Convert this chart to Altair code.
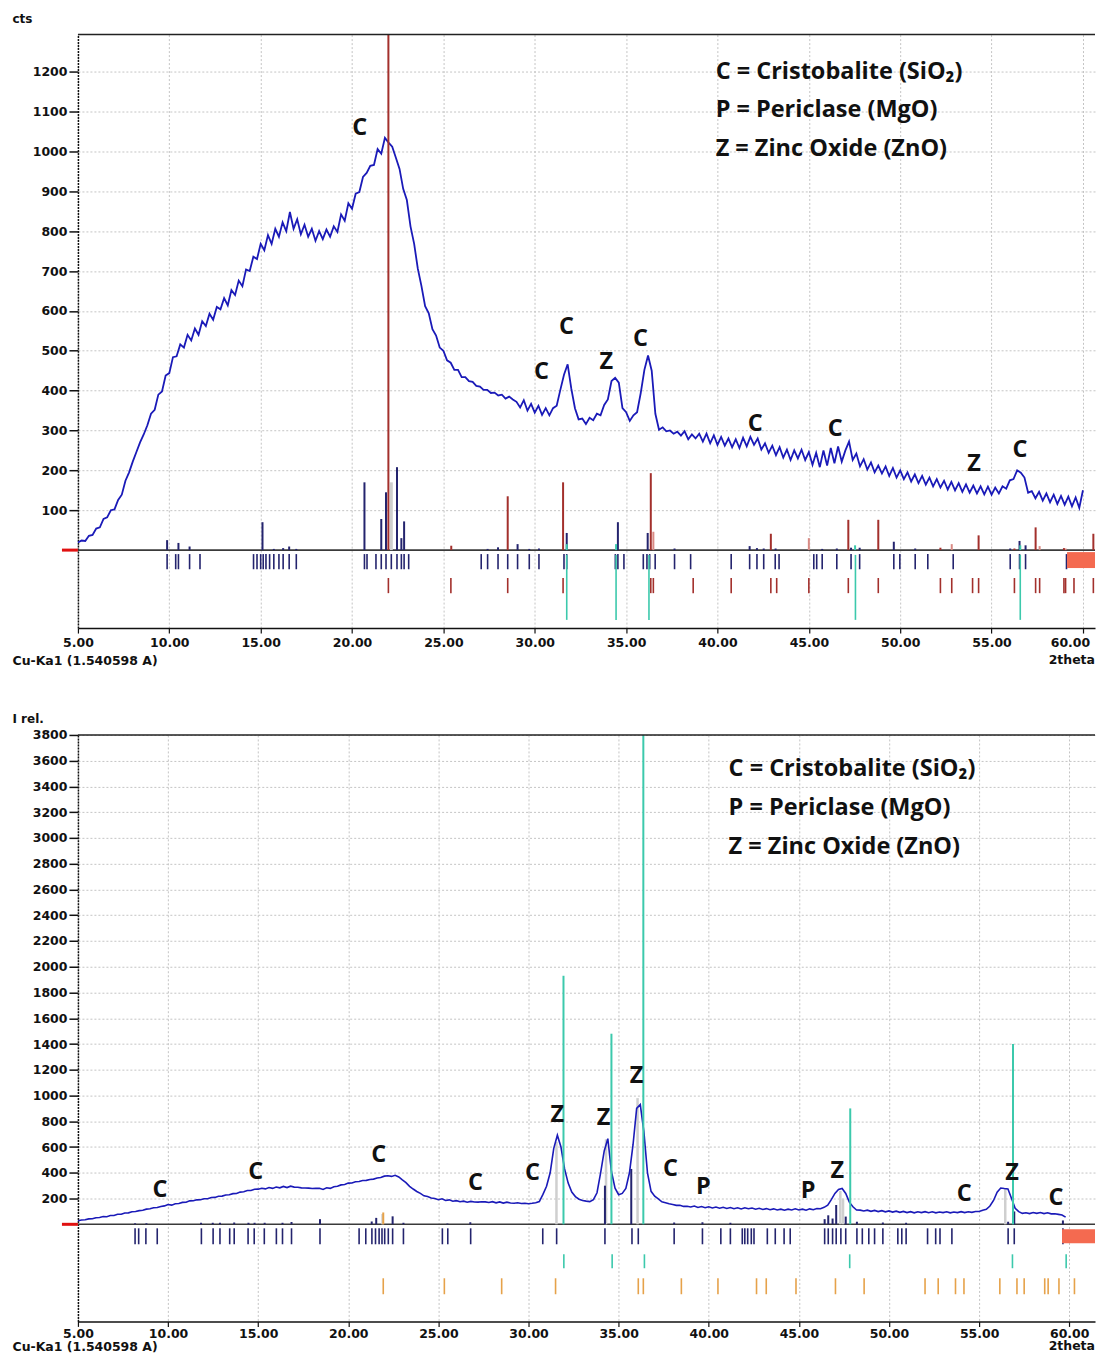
import altair as alt
import pandas as pd

# ---------------- data ----------------
STEP = 0.2

# Upper pattern (cts), 2theta = 5.0, 5.2, ... 60.0
P1_INTENSITY = [
    19, 24, 23, 36, 38, 54, 57, 78, 82, 100,
    102, 126, 139, 174, 195, 222, 246, 270, 290, 313,
    342, 352, 390, 398, 438, 444, 484, 486, 516, 508,
    540, 526, 556, 540, 574, 562, 593, 578, 610, 604,
    632, 614, 652, 640, 676, 662, 704, 700, 736, 730,
    768, 752, 790, 768, 806, 786, 822, 800, 848, 806,
    830, 792, 816, 786, 806, 776, 800, 780, 804, 786,
    812, 798, 842, 826, 870, 856, 894, 898, 936, 946,
    964, 966, 1006, 994, 1034, 1022, 1012, 984, 956, 906,
    878, 812, 768, 706, 662, 612, 594, 554, 538, 508,
    500, 476, 470, 452, 452, 434, 434, 424, 422, 412,
    410, 402, 402, 394, 395, 388, 390, 380, 385, 378,
    372, 358, 376, 350, 367, 345, 362, 339, 356, 338,
    356, 362, 402, 440, 466, 405, 356, 328, 330, 316,
    332, 326, 342, 338, 364, 378, 424, 432, 420, 356,
    346, 324, 338, 346, 394, 452, 488, 450, 342, 302,
    308, 298, 300, 292, 297, 287, 298, 278, 290, 280,
    292, 272, 292, 268, 288, 264, 284, 262, 280, 258,
    278, 256, 282, 260, 284, 264, 280, 252, 268, 244,
    262, 238, 258, 232, 252, 226, 250, 230, 252, 226,
    246, 214, 244, 208, 250, 212, 256, 218, 260, 222,
    250, 272, 226, 242, 210, 228, 202, 220, 195, 212,
    192, 210, 186, 206, 182, 200, 178, 195, 172, 190,
    168, 186, 164, 182, 160, 178, 157, 174, 152, 171,
    150, 168, 146, 165, 144, 162, 142, 160, 140, 159,
    139, 157, 142, 160, 154, 175, 178, 200, 194, 182,
    144, 148, 130, 146, 124, 142, 120, 139, 116, 136,
    114, 134, 110, 132, 106, 150,
]

# Lower pattern (I rel.), 2theta = 5.0, 5.2, ... 59.8
P2_INTENSITY = [
    28, 33, 35, 42, 43, 51, 53, 60, 59, 68,
    69, 78, 78, 88, 89, 97, 99, 106, 109, 118,
    121, 128, 131, 138, 143, 154, 149, 160, 161, 170,
    171, 182, 183, 190, 191, 198, 199, 208, 209, 218,
    219, 228, 229, 238, 239, 250, 253, 262, 263, 272,
    273, 280, 275, 286, 279, 290, 283, 294, 285, 296,
    289, 288, 283, 282, 281, 278, 279, 280, 271, 284,
    279, 292, 295, 306, 309, 320, 321, 330, 333, 340,
    341, 348, 351, 360, 363, 374, 377, 372, 381, 368,
    345, 324, 295, 274, 255, 240, 221, 216, 205, 200,
    191, 198, 185, 190, 179, 184, 175, 180, 171, 178,
    173, 172, 175, 174, 169, 176, 167, 174, 165, 172,
    165, 164, 167, 162, 163, 160, 163, 168, 177, 232,
    295, 400, 590, 692, 600, 430, 320, 250, 215, 195,
    185, 180, 176, 192, 245, 400, 570, 665, 410, 280,
    230, 240, 278, 400, 620, 900, 930, 720, 400, 256,
    219, 198, 175, 168, 159, 154, 147, 148, 139, 140,
    135, 142, 131, 138, 129, 136, 127, 134, 125, 132,
    123, 130, 121, 128, 119, 128, 121, 126, 117, 124,
    115, 122, 113, 120, 111, 118, 109, 118, 111, 120,
    111, 118, 109, 120, 113, 122, 121, 132, 149, 192,
    240, 270, 278, 240, 172, 136, 111, 110, 103, 110,
    101, 108, 99, 106, 97, 104, 95, 102, 93, 100,
    91, 98, 89, 97, 91, 98, 90, 97, 89, 96,
    91, 97, 89, 96, 91, 98, 91, 97, 93, 100,
    99, 110, 117, 142, 185, 250, 282, 278, 275, 200,
    125, 98, 85, 90, 83, 92, 85, 91, 83, 90,
    81, 82, 77, 72, 56,
]

P1_TWO_THETA = [round(5.0 + STEP * i, 1) for i in range(len(P1_INTENSITY))]
P2_TWO_THETA = [round(5.0 + STEP * i, 1) for i in range(len(P2_INTENSITY))]

# reference sticks, upper panel
P1_NAVY_X = [9.88, 10.5, 11.11, 15.1, 15.72, 16.23, 16.56, 16.95, 20.68, 21.6, 21.86, 22.46, 22.7, 22.85,
             27.42, 27.99, 29.06, 29.7, 30.23, 31.75, 34.55, 36.18, 37.65, 41.76, 42.16, 42.53, 43.18,
             45.73, 46.53, 47.31, 47.78, 49.65, 50.82, 56.02, 56.53, 56.86]
P1_NAVY_Y = [25, 18, 9, 70, 3, 5, 9, 3, 170, 78, 145, 208, 30, 72,
             3, 7, 15, 3, 4, 43, 70, 43, 4, 10, 5, 4, 4,
             3, 4, 6, 6, 21, 4, 4, 23, 12]
P1_RED_X = [21.99, 25.43, 28.52, 31.55, 36.35, 42.92, 47.16, 48.8, 52.2, 54.29, 56.25, 57.41, 58.96, 60.57]
P1_RED_Y = [1293, 11, 135, 170, 193, 41, 76, 76, 6, 37, 4, 57, 5, 41]
P1_PINK_X = [36.49, 45.0, 52.82, 57.63, 59.05]
P1_PINK_Y = [46, 30, 15, 10, 4]
P1_CYAN_X = [31.75, 34.45, 47.53, 56.57]
P1_CYAN_Y = [15, 15, 12, 12]
P1_GRAY_X = [22.15]
P1_GRAY_Y = [170]

# phase marker rows, upper panel
P1_ROW_NAVY = [9.88, 10.35, 10.5, 11.11, 11.68, 14.61, 14.8, 15.0, 15.14, 15.29, 15.49, 15.72, 16.0, 16.23,
               16.56, 16.95, 20.68, 20.82, 21.31, 21.6, 21.86, 22.15, 22.46, 22.7, 22.85, 23.1, 27.07, 27.42,
               27.99, 28.52, 29.06, 29.7, 30.23, 31.6, 31.75, 34.41, 34.55, 34.88, 35.94, 36.14, 36.29, 36.59,
               37.65, 38.53, 40.75, 41.76, 42.16, 42.53, 43.16, 43.37, 45.27, 45.43, 45.73, 46.53, 47.31,
               47.78, 49.65, 49.98, 50.82, 51.51, 52.9, 56.02, 56.53, 56.86, 59.1]
P1_ROW_RED = [21.99, 25.41, 28.52, 31.55, 36.35, 36.49, 38.67, 40.75, 42.92, 43.24, 45.0, 47.16, 48.8, 52.2,
              52.82, 53.96, 54.29, 56.25, 57.41, 57.63, 58.96, 59.05, 59.51, 60.57]
P1_ROW_CYAN = [31.75, 34.45, 36.25, 47.55, 56.57]

# reference sticks, lower panel
P2_CYAN_X = [31.94, 34.6, 36.37, 47.85, 56.88]
P2_CYAN_Y = [1930, 1480, 3800, 900, 1400]
P2_NAVY_X = [8.17, 8.8, 11.83, 12.48, 12.88, 13.67, 14.46, 14.8, 15.36, 16.35, 16.85, 18.43, 21.3, 21.55,
             22.46, 23.06, 25.5, 26.77, 34.24, 35.7, 38.08, 39.65, 41.2, 46.43, 46.63, 46.87, 47.07, 47.6,
             48.22, 49.66, 50.95, 56.61, 56.95, 59.65]
P2_NAVY_Y = [8, 8, 12, 12, 12, 14, 12, 12, 12, 12, 18, 40, 22, 50,
             62, 12, 6, 16, 300, 430, 14, 16, 12, 40, 70, 45, 150, 60,
             20, 14, 12, 20, 100, 30]
P2_GRAY_X = [21.9, 31.55, 34.3, 36.05, 47.3, 47.45, 56.45]
P2_GRAY_Y = [80, 640, 660, 980, 260, 200, 280]
P2_ORANGE_X = [21.94]
P2_ORANGE_Y = [92]

# phase marker rows, lower panel
P2_ROW_NAVY = [8.17, 8.37, 8.77, 9.4, 11.85, 12.5, 12.88, 13.42, 13.67, 14.44, 14.78, 15.34, 16.01, 16.35,
               16.85, 18.43, 20.6, 20.97, 21.31, 21.51, 21.71, 21.87, 22.02, 22.22, 22.46, 23.06, 25.22,
               25.52, 26.79, 30.79, 31.56, 34.24, 35.74, 36.09, 38.08, 39.65, 40.67, 41.2, 41.86, 42.0,
               42.16, 42.36, 42.51, 43.25, 43.69, 44.18, 44.52, 46.43, 46.63, 46.87, 47.07, 47.33, 47.6,
               48.22, 48.52, 48.88, 49.2, 49.66, 50.49, 50.71, 50.95, 52.14, 52.59, 52.83, 53.49, 56.61,
               56.95, 59.65]
P2_ROW_CYAN = [31.96, 34.64, 36.43, 47.82, 56.85, 59.83]
P2_ROW_ORANGE = [21.94, 25.33, 28.51, 31.5, 36.09, 36.37, 38.48, 40.51, 42.65, 43.19, 44.84, 47.03, 48.62,
                 52.0, 52.73, 53.69, 54.16, 56.15, 57.1, 57.5, 58.64, 58.83, 59.43, 60.29]

# peak letters
P1_LABEL_T = ["C", "C", "C", "Z", "C", "C", "C", "Z", "C"]
P1_LABEL_X = [20.42, 30.37, 31.74, 33.92, 35.78, 42.07, 46.44, 54.04, 56.56]
P1_LABEL_Y = [1058, 446, 559, 471, 529, 316, 303, 216, 251]

P2_LABEL_T = ["C", "C", "C", "C", "C", "Z", "Z", "Z", "C", "P", "P", "Z", "C", "Z", "C"]
P2_LABEL_X = [9.55, 14.87, 21.69, 27.06, 30.22, 31.6, 34.16, 35.99, 37.87, 39.7, 45.52, 47.13, 54.17, 56.83, 59.27]
P2_LABEL_Y = [264, 403, 535, 318, 396, 846, 822, 1148, 427, 287, 256, 411, 233, 396, 202]

LEGEND_LINES = ["C = Cristobalite (SiO\u2082)", "P = Periclase (MgO)", "Z = Zinc Oxide (ZnO)"]
P1_LEGEND_X = 39.9
P1_LEGEND_Y = [1200, 1103, 1005]
P2_LEGEND_X = 41.1
P2_LEGEND_Y = [3538, 3235, 2933]

X_TICKS = [5, 10, 15, 20, 25, 30, 35, 40, 45, 50, 55, 60]
P1_Y_TICKS = list(range(100, 1300, 100))
P2_Y_TICKS = list(range(200, 4000, 200))

# ---------------- styling ----------------
AX_FONT = "DejaVu Sans"
LBL_FONT = "Open Sans"
W = 1018
H1 = 594
H2 = 587
NAVY = "#24246e"
RED = "#a3302c"
PINK = "#d98a84"
CYAN = "#3cc9ac"
ORANGE = "#e6a24a"
GRAY = "#cfcfcf"
CURVE = "#1a1ab8"
SCROLL = "#f46a50"


def panel(W, H, xdom, ydom, yticks, ytitle, cx, cy, before, after, rows, rect, lab, leg,
          xtitle_y, label_pad, curve_w, last_shift):
    xs = alt.Scale(domain=xdom, nice=False, zero=False)
    ys = alt.Scale(domain=ydom, nice=False, zero=False)
    xax = alt.Axis(values=X_TICKS, format=".2f", title="Cu-Ka1 (1.540598 A)", titleX=-66, titleY=xtitle_y,
                   titleAlign="left", titleBaseline="middle", titleFont=AX_FONT, titleFontSize=12.5,
                   titleFontWeight="bold", titleColor="#111", labelFont=AX_FONT, labelFontSize=12.5,
                   labelFontWeight="bold", labelColor="#111", labelFlush=False, labelPadding=label_pad,
                   labelOffset={"condition": {"test": "datum.value == 60", "value": last_shift}, "value": 0},
                   grid=True, gridDash=[2, 2], gridColor="#c4c4c4", domainColor="#111", domainWidth=1.5,
                   tickColor="#111", tickSize=5, tickWidth=1.2)
    yax = alt.Axis(values=yticks, format="d", title=ytitle, titleAngle=0, titleX=-66, titleY=-16,
                   titleAlign="left", titleBaseline="middle", titleFont=AX_FONT, titleFontSize=12,
                   titleFontWeight="bold", titleColor="#111", labelFont=AX_FONT, labelFontSize=12.5,
                   labelFontWeight="bold", labelColor="#111", labelPadding=2, grid=True, gridDash=[2, 2],
                   gridColor="#c4c4c4", domainColor="#111", domainDash=[2, 1], domainWidth=1.5,
                   tickColor="#111", tickSize=9, tickWidth=1.5)

    def X(f="x"):
        return alt.X(f + ":Q", scale=xs, axis=xax)

    def Y(f="y"):
        return alt.Y(f + ":Q", scale=ys, axis=yax)

    def sticks(xv, yv, color, width):
        df = pd.DataFrame({"x": xv, "y": [0] * len(xv), "y1": yv})
        return alt.Chart(df).mark_rule(color=color, strokeWidth=width).encode(x=X(), y=Y(), y2="y1:Q")

    def row(xv, y0, y1, color, width):
        df = pd.DataFrame({"x": xv, "y": [y0] * len(xv), "y1": [y1] * len(xv)})
        return alt.Chart(df).mark_rule(color=color, strokeWidth=width).encode(x=X(), y=Y(), y2="y1:Q")

    layers = []
    layers.append(alt.Chart().mark_rule(color="#3a3a3a", strokeWidth=1.6).encode(
        x=alt.value(0), x2=alt.value(W), y=alt.datum(0, scale=ys, axis=yax)))
    for s in before:
        layers.append(sticks(*s))
    cdf = pd.DataFrame({"x": cx, "y": cy})
    layers.append(alt.Chart(cdf).mark_line(color=CURVE, strokeWidth=curve_w).encode(x=X(), y=Y()))
    for s in after:
        layers.append(sticks(*s))
    for r in rows:
        layers.append(row(*r))
    rdf = pd.DataFrame({"x": [rect[0]], "x2": [xdom[1]], "y": [rect[1]], "y1": [rect[2]]})
    layers.append(alt.Chart(rdf).mark_rect(color=SCROLL).encode(x=X(), x2="x2:Q", y=Y(), y2="y1:Q"))
    layers.append(alt.Chart().mark_rule(color="#e01010", strokeWidth=3).encode(
        x=alt.value(-16), x2=alt.value(0), y=alt.datum(0, scale=ys, axis=yax)))
    layers.append(alt.Chart().mark_rule(color="#222", strokeWidth=1.5).encode(
        x=alt.value(0), x2=alt.value(W), y=alt.value(0)))
    ldf = pd.DataFrame({"x": lab[0], "y": lab[1], "t": lab[2]})
    layers.append(alt.Chart(ldf).mark_text(font=LBL_FONT, fontWeight="bold", fontSize=23.5, color="#111",
                                           align="center", baseline="middle").encode(x=X(), y=Y(), text="t:N"))
    gdf = pd.DataFrame({"x": [leg[0]] * 3, "y": leg[1], "t": LEGEND_LINES})
    layers.append(alt.Chart(gdf).mark_text(font=LBL_FONT, fontWeight="bold", fontSize=23.5, color="#111",
                                           align="left", baseline="middle").encode(x=X(), y=Y(), text="t:N"))
    tdf = pd.DataFrame({"t": ["2theta"]})
    layers.append(alt.Chart(tdf).mark_text(font=AX_FONT, fontWeight="bold", fontSize=12.5, color="#111",
                                           align="right", baseline="middle").encode(
        text="t:N", x=alt.value(W), y=alt.value(H + xtitle_y)))
    return alt.layer(*layers).properties(width=W, height=H)


p1 = panel(
    W, H1, [5, 60.66], [-195.5, 1293], P1_Y_TICKS, "cts", P1_TWO_THETA, P1_INTENSITY,
    before=[(P1_GRAY_X, P1_GRAY_Y, GRAY, 3)],
    after=[(P1_NAVY_X, P1_NAVY_Y, NAVY, 2), (P1_PINK_X, P1_PINK_Y, PINK, 2),
           (P1_RED_X, P1_RED_Y, RED, 2), (P1_CYAN_X, P1_CYAN_Y, CYAN, 2)],
    rows=[(P1_ROW_NAVY, -10, -48, NAVY, 1.6), (P1_ROW_RED, -70, -108, RED, 1.6),
          (P1_ROW_CYAN, -12, -175, CYAN, 1.6)],
    rect=(59.13, -5, -45),
    lab=(P1_LABEL_X, P1_LABEL_Y, P1_LABEL_T),
    leg=(P1_LEGEND_X, P1_LEGEND_Y),
    xtitle_y=32, label_pad=3, curve_w=1.8, last_shift=-13,
)

p2 = panel(
    W, H2, [5, 61.43], [-754, 3800], P2_Y_TICKS, "I rel.", P2_TWO_THETA, P2_INTENSITY,
    before=[(P2_GRAY_X, P2_GRAY_Y, GRAY, 2.5), (P2_NAVY_X, P2_NAVY_Y, NAVY, 2),
            (P2_ORANGE_X, P2_ORANGE_Y, ORANGE, 2)],
    after=[(P2_CYAN_X, P2_CYAN_Y, CYAN, 2)],
    rows=[(P2_ROW_NAVY, -31, -155, NAVY, 1.6), (P2_ROW_CYAN, -233, -341, CYAN, 1.6),
          (P2_ROW_ORANGE, -419, -543, ORANGE, 1.6)],
    rect=(59.6, -39, -147),
    lab=(P2_LABEL_X, P2_LABEL_Y, P2_LABEL_T),
    leg=(P2_LEGEND_X, P2_LEGEND_Y),
    xtitle_y=25, label_pad=1, curve_w=1.6, last_shift=0,
)

chart = alt.vconcat(p1, p2, spacing=46).properties(
    padding={"left": 4, "top": 4, "right": 0, "bottom": 0}
).configure_view(stroke=None)

chart.save("out.html", embed_options={"renderer": "svg", "actions": False})
